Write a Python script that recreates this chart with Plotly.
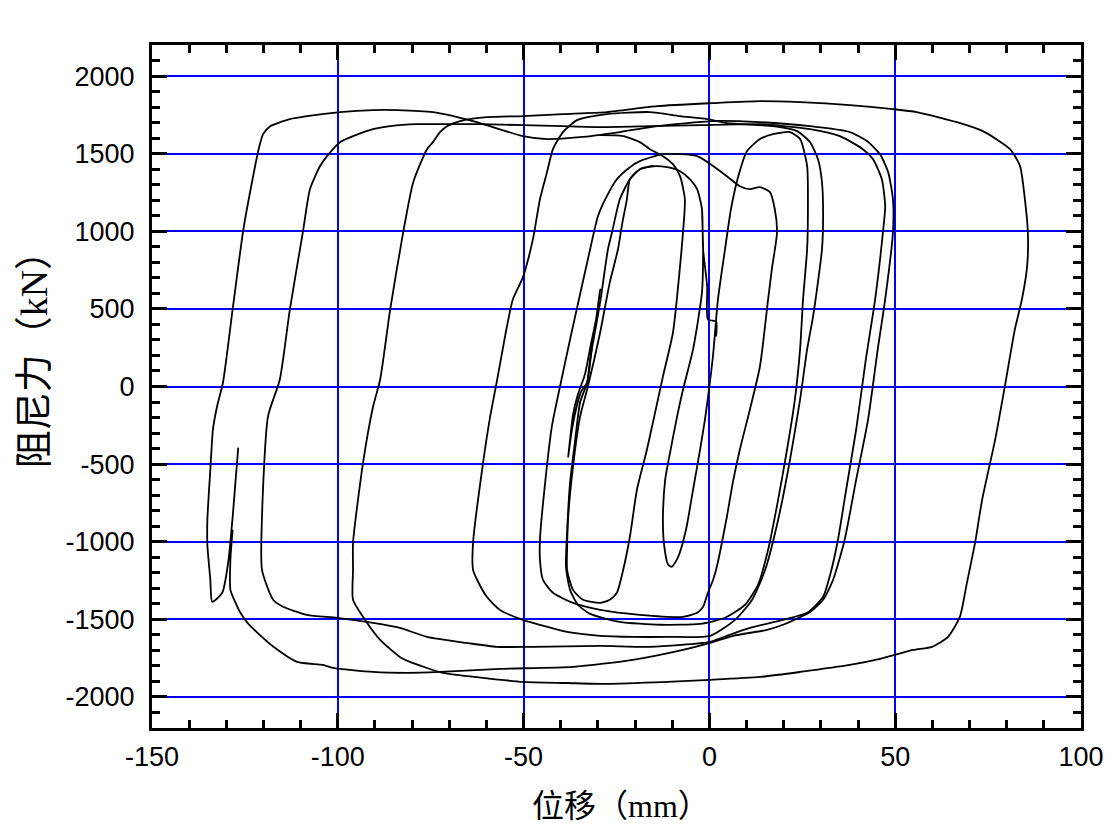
import plotly.graph_objects as go

# ---- tick labels ----
x_tick_vals = [-150, -100, -50, 0, 50, 100]
x_tick_text = ["-150", "-100", "-50", "0", "50", "100"]
y_tick_vals = [-2000, -1500, -1000, -500, 0, 500, 1000, 1500, 2000]
y_tick_text = ["-2000", "-1500", "-1000", "-500", "0", "500", "1000", "1500", "2000"]

# ---- hysteresis branches (displacement mm, force kN) ----
loop_r_x = [-95.9, -95.9, -95.9, -93.2, -90.5, -88.6, -85.9, -82.4, -79.7, -76.0, -74.4, -72.5, -70.6, -67.1,
            -59.8, -50.2, -39.4, -27.6, -14.1, 1.0, 13.6, 24.4, 37.8, 49.4, 55.8, 66.6, 73.6, 80.9, 83.6, 84.9,
            85.7, 85.5, 84.1, 82.2, 79.5, 76.9, 73.4, 71.5, 69.3, 67.4, 64.2, 59.9, 54.8, 45.9, 37.8, 24.4, 13.6,
            0.2, -11.4, -27.6, -38.3, -50.2, -60.9, -71.7, -80.6, -83.3, -88.6, -92.1, -95.9]
loop_r_y = [-1374, -1181, -1006, -490, -129, 45, 497, 994, 1316, 1529, 1574, 1639, 1677, 1710,
            1735, 1742, 1755, 1768, 1806, 1826, 1839, 1832, 1813, 1787, 1768, 1703, 1645, 1529, 1419, 1206,
            994, 774, 561, 368, 0, -342, -729, -1006, -1265, -1484, -1613, -1677, -1697, -1755, -1794, -1839, -1871,
            -1890, -1903, -1916, -1910, -1903, -1877, -1845, -1774, -1742, -1632, -1523, -1374]

loop_p_x = [-126.8, -128.2, -129.5, -131.1, -133.8, -134.3, -135.1, -135.1, -134.3, -133.6, -132.5, -130.9,
            -128.2, -125.4, -123.1, -121.3, -120.1, -118.2, -115.5, -112.9, -108.3, -99.4, -90.5, -84.0, -74.4,
            -63.6, -50.2, -43.7, -34.8, -24.1, -14.1, 1.0, 13.6, 27.1, 37.8, 42.4, 45.9, 48.1, 49.4, 49.4, 47.3,
            45.3, 42.7, 39.5, 36.4, 33.3, 30.6, 27.1, 19.8, 15.5, 6.4, 0.2, -7.1, -20.6, -36.7, -56.4, -72.5,
            -81.4, -90.5, -101.3, -104.0, -111.0, -117.3, -121.6, -124.3, -126.2, -127.5, -128.9, -128.9, -128.3]
loop_p_y = [-394, -813, -1135, -1329, -1387, -1245, -1019, -858, -535, -277, -129, 26,
            516, 1013, 1316, 1529, 1626, 1677, 1703, 1723, 1742, 1768, 1781, 1781, 1768,
            1710, 1613, 1594, 1606, 1639, 1677, 1710, 1703, 1677, 1639, 1581, 1497, 1381, 1206, 994, 561,
            239, -213, -600, -987, -1245, -1374, -1452, -1535, -1568, -1606, -1652, -1697, -1761, -1806, -1819, -1839,
            -1845, -1839, -1813, -1794, -1774, -1677, -1587, -1523, -1458, -1394, -1310, -1116, -923]

loop_q_x = [-120.4, -120.4, -118.8, -115.6, -112.9, -109.4, -107.5, -104.8, -102.9, -99.4, -95.9, -90.5, -85.9,
            -78.7, -70.6, -61.7, -50.2, -39.4, -29.4, -16.0, -2.5, 13.6, 27.1, 35.1, 41.3, 44.0, 46.4, 47.3, 46.7,
            44.6, 42.1, 39.5, 36.8, 34.6, 32.5, 30.6, 26.3, 19.8, 10.9, 4.7, 0.2, -16.0, -29.4, -47.5, -57.2,
            -65.3, -76.0, -83.3, -90.5, -100.2, -108.3, -114.7, -117.4, -120.4]
loop_q_y = [-1181, -839, -194, 45, 497, 994, 1271, 1419, 1484, 1574, 1613, 1658, 1677,
            1690, 1690, 1690, 1684, 1677, 1671, 1677, 1684, 1690, 1658, 1613, 1529, 1465, 1335, 1161, 994,
            561, 174, -277, -665, -987, -1213, -1355, -1458, -1503, -1555, -1606, -1645, -1677, -1671, -1677, -1677,
            -1652, -1613, -1555, -1523, -1490, -1471, -1419, -1374, -1181]

loop_s_x = [-63.6, -63.6, -60.9, -59.0, -57.1, -54.9, -52.9, -50.2, -47.5, -45.6, -43.7, -42.1, -39.4, -35.6,
            -27.6, -16.0, -7.9, -0.6, 4.7, 17.1, 23.6, 27.1, 29.2, 30.3, 30.6, 30.3, 29.2, 27.9, 26.3, 24.4, 21.7,
            18.5, 15.0, 11.5, 6.9, 0.2, -11.4, -20.6, -29.4, -38.3, -50.2, -56.4, -59.9, -62.5, -63.6]
loop_s_y = [-1181, -1006, -490, -194, 45, 335, 561, 703, 948, 1206, 1381, 1529, 1639, 1716,
            1755, 1768, 1742, 1723, 1697, 1677, 1645, 1574, 1465, 1316, 1097, 884, 671, 452, 239, -84, -471,
            -858, -1181, -1374, -1503, -1606, -1613, -1613, -1606, -1581, -1503, -1439, -1355, -1245, -1181]

loop_t_x = [-45.6, -45.6, -44.2, -42.4, -40.2, -37.5, -34.8, -32.1, -30.0, -27.6, -24.9, -21.4, -18.7, -12.5,
            -3.3, 4.7, 8.2, 10.9, 13.6, 16.3, 17.6, 18.2, 16.8, 15.8, 13.6, 10.9, 8.2, 6.3, 4.7, 2.0, 1.0, -0.4,
            -1.7, -3.3, -7.1, -18.7, -29.4, -36.7, -42.1, -44.8, -45.6]
loop_t_y = [-1116, -987, -619, -258, 0, 303, 594, 884, 1097, 1226, 1335, 1413, 1452, 1497,
            1484, 1355, 1290, 1271, 1284, 1252, 1142, 994, 755, 561, 129, -148, -406, -619, -839, -1161, -1245, -1329,
            -1419, -1458, -1484, -1471, -1439, -1394, -1329, -1245, -1116]

loop_x_x = [-29.4, -23.2, -18.7, -16.0, -12.5, -9.8, -7.9, -6.6, -7.1, -7.9, -9.8, -12.5, -16.8, -19.5, -21.4,
            -23.2, -24.9, -26.8, -29.4, -34.0, -36.7, -38.3, -38.3, -38.0, -36.7, -34.8, -32.7, -29.4, -26.8,
            -24.6, -23.5, -22.2, -21.4, -18.7, -15.2]
loop_x_y = [1619, 1613, 1574, 1529, 1484, 1432, 1355, 1206, 994, 774, 348, 65, -406, -665, -968,
            -1181, -1329, -1374, -1394, -1374, -1310, -1181, -1052, -839, -516, -194, 0, 348, 671,
            884, 1045, 1206, 1335, 1400, 1419]

loop_v_x = [-2.0, -1.7, -2.0, -4.4, -7.1, -8.7, -11.1, -11.9, -12.5, -12.2, -11.1, -10.1, -8.4, -6.3, -4.4,
            -2.5, -1.2, -0.1, 1.0, 2.3, 4.2, 5.8, 7.7, 10.1, 13.6, 17.1, 21.7, 24.4, 26.3, 26.5, 26.3, 25.2,
            24.4, 23.0, 20.9, 18.5, 15.8, 13.1, 9.6, 4.2, -2.5, -13.3, -24.1, -32.1, -35.4, -37.5, -38.6, -38.3,
            -37.5, -36.2, -34.8, -32.9, -32.1, -29.4, -27.3, -26.2, -24.1, -21.4, -18.7, -15.2, -11.4, -7.9,
            -5.2, -3.3, -2.0, -1.7, -0.6, -0.4, 1.8, 1.8]
loop_v_y = [1142, 884, 606, 239, -19, -194, -490, -600, -839, -1019, -1148, -1161, -1097, -923, -665,
            -406, -213, -19, 206, 561, 884, 1142, 1348, 1516, 1594, 1626, 1639, 1594, 1419, 1097, 884, 561,
            239, -84, -406, -729, -1052, -1277, -1406, -1490, -1529, -1535, -1516, -1465, -1406, -1310, -1161, -942,
            -619, -361, -103, 26, 174, 542, 884, 994, 1206, 1335, 1400, 1419, 1413, 1387,
            1335, 1271, 1142, 884, 645, 432, 419, 323]

spike_x = [-32.9, -31.3, -30.3, -29.4, -30.5, -31.9, -33.5, -35.4, -36.7, -37.5, -38.0, -37.2, -35.9, -34.5, -32.9]
spike_y = [26, 323, 452, 626, 432, 271, 77, -52, -181, -342, -452, -310, -148, -32, 26]

branches = [
    (loop_r_x, loop_r_y), (loop_p_x, loop_p_y), (loop_q_x, loop_q_y), (loop_s_x, loop_s_y),
    (loop_t_x, loop_t_y), (loop_x_x, loop_x_y), (loop_v_x, loop_v_y), (spike_x, spike_y),
]

fig = go.Figure()
for bx, by in branches:
    fig.add_trace(go.Scatter(
        x=bx, y=by, mode="lines",
        line=dict(color="black", width=1.8, shape="spline", smoothing=0.6),
        showlegend=False, hoverinfo="skip",
    ))

tick_font = dict(family="Liberation Sans, Arial, sans-serif", size=27, color="black")
title_font_family = "Liberation Serif, Noto Sans CJK SC, serif"

fig.update_layout(
    width=1109, height=821,
    margin=dict(l=144, r=36, t=37, b=101),
    paper_bgcolor="white", plot_bgcolor="white",
    showlegend=False,
    xaxis=dict(
        range=[-150, 100], tickmode="array", tickvals=x_tick_vals, ticktext=x_tick_text,
        ticks="inside", ticklen=15, tickwidth=3, tickcolor="black",
        showline=True, linewidth=3, linecolor="black", mirror="allticks",
        showgrid=True, gridcolor="#0000ff", gridwidth=1.5, zeroline=False,
        minor=dict(tickmode="linear", tick0=-150, dtick=10, ticks="inside", ticklen=8,
                   tickwidth=3, tickcolor="black", showgrid=False),
        tickfont=tick_font, ticklabelstandoff=3,
    ),
    yaxis=dict(
        range=[-2200, 2200], tickmode="array", tickvals=y_tick_vals, ticktext=y_tick_text,
        ticks="inside", ticklen=15, tickwidth=3, tickcolor="black",
        showline=True, linewidth=3, linecolor="black", mirror="allticks",
        showgrid=True, gridcolor="#0000ff", gridwidth=1.5, zeroline=False,
        minor=dict(tickmode="linear", tick0=0, dtick=100, ticks="inside", ticklen=8,
                   tickwidth=3, tickcolor="black", showgrid=False),
        tickfont=tick_font, ticklabelstandoff=9,
    ),
    annotations=[
        dict(text="位移（mm）", xref="paper", yref="paper", x=0.505, y=-0.1142,
             xanchor="center", yanchor="middle", showarrow=False,
             font=dict(family=title_font_family, size=32, color="black")),
        dict(text="阻尼力（kN）", xref="paper", yref="paper", x=-0.127, y=0.553,
             xanchor="center", yanchor="middle", showarrow=False, textangle=-90,
             font=dict(family=title_font_family, size=38, color="black")),
    ],
)

fig.write_html("out.html")
